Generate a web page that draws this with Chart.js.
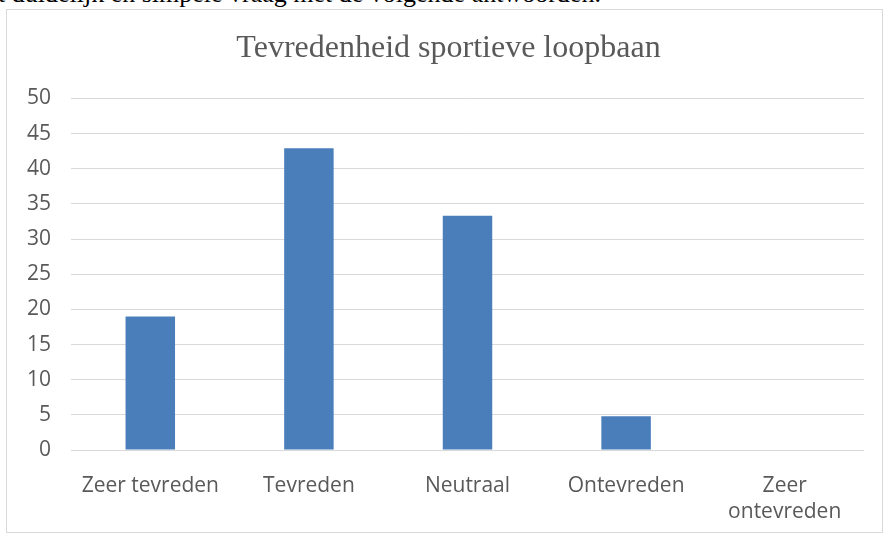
<!DOCTYPE html>
<html>
<head>
<meta charset="utf-8">
<script src="https://cdn.jsdelivr.net/npm/chart.js@4/dist/chart.umd.min.js"></script>
<style>
  html, body { margin: 0; padding: 0; background: #ffffff; width: 886px; height: 537px; overflow: hidden; position: relative; }
  #header { position: absolute; left: -2px; top: -19px; font-family: "Liberation Serif", "DejaVu Serif", serif; font-size: 26px; line-height: 26px; color: #000; white-space: nowrap; }
  #box { position: absolute; left: 6px; top: 9px; width: 875px; height: 522px; border: 1px solid #d9d9d9; background: #fff; }
  #box canvas { display: block; }
</style>
</head>
<body>
<div id="header">t duidelijk en simpele vraag met de volgende antwoorden.</div>
<div id="box"><canvas id="c" width="875" height="522"></canvas></div>
<script>
const chartTitle = 'Tevredenheid sportieve loopbaan';
const categories = ['Zeer tevreden', 'Tevreden', 'Neutraal', 'Ontevreden', ['Zeer', 'ontevreden']];
const values = [19.0, 42.9, 33.3, 4.8, 0];
const yTicks = [0, 5, 10, 15, 20, 25, 30, 35, 40, 45, 50];

const textColor = '#595959';
const tickFont = { family: '"Open Sans", "Liberation Sans", sans-serif', size: 21, lineHeight: 1.24 };

const shiftTitle = {
  id: 'shiftTitle',
  afterLayout(chart) {
    if (chart.titleBlock) { chart.titleBlock.left = 26; }
  }
};

new Chart(document.getElementById('c'), {
  type: 'bar',
  data: {
    labels: categories,
    datasets: [{
      data: values,
      backgroundColor: '#4a7ebb',
      borderWidth: 0,
      barPercentage: 0.312,
      categoryPercentage: 1.0
    }]
  },
  plugins: [shiftTitle],
  options: {
    responsive: false,
    animation: false,
    events: [],
    layout: { padding: { left: 0, right: 18, top: 0, bottom: 0 } },
    plugins: {
      legend: { display: false },
      tooltip: { enabled: false },
      title: {
        display: true,
        text: chartTitle,
        color: textColor,
        font: { family: '"Liberation Serif", "DejaVu Serif", serif', size: 32, weight: 'normal', lineHeight: 1.2 },
        padding: { top: 19, bottom: 31 }
      }
    },
    scales: {
      x: {
        grid: { display: false, drawTicks: false },
        border: { display: false },
        ticks: {
          color: textColor,
          font: tickFont,
          padding: 23,
          autoSkip: false,
          maxRotation: 0,
          minRotation: 0
        },
        afterFit: (s) => { s.height = 82; }
      },
      y: {
        min: 0,
        max: 50,
        afterBuildTicks: (s) => { s.ticks = yTicks.map(v => ({ value: v })); },
        grid: { color: '#d9d9d9', lineWidth: 1, drawTicks: false },
        border: { display: false },
        ticks: {
          color: textColor,
          font: tickFont,
          padding: 20
        },
        afterFit: (s) => { s.width = 64; }
      }
    }
  }
});
</script>
</body>
</html>
